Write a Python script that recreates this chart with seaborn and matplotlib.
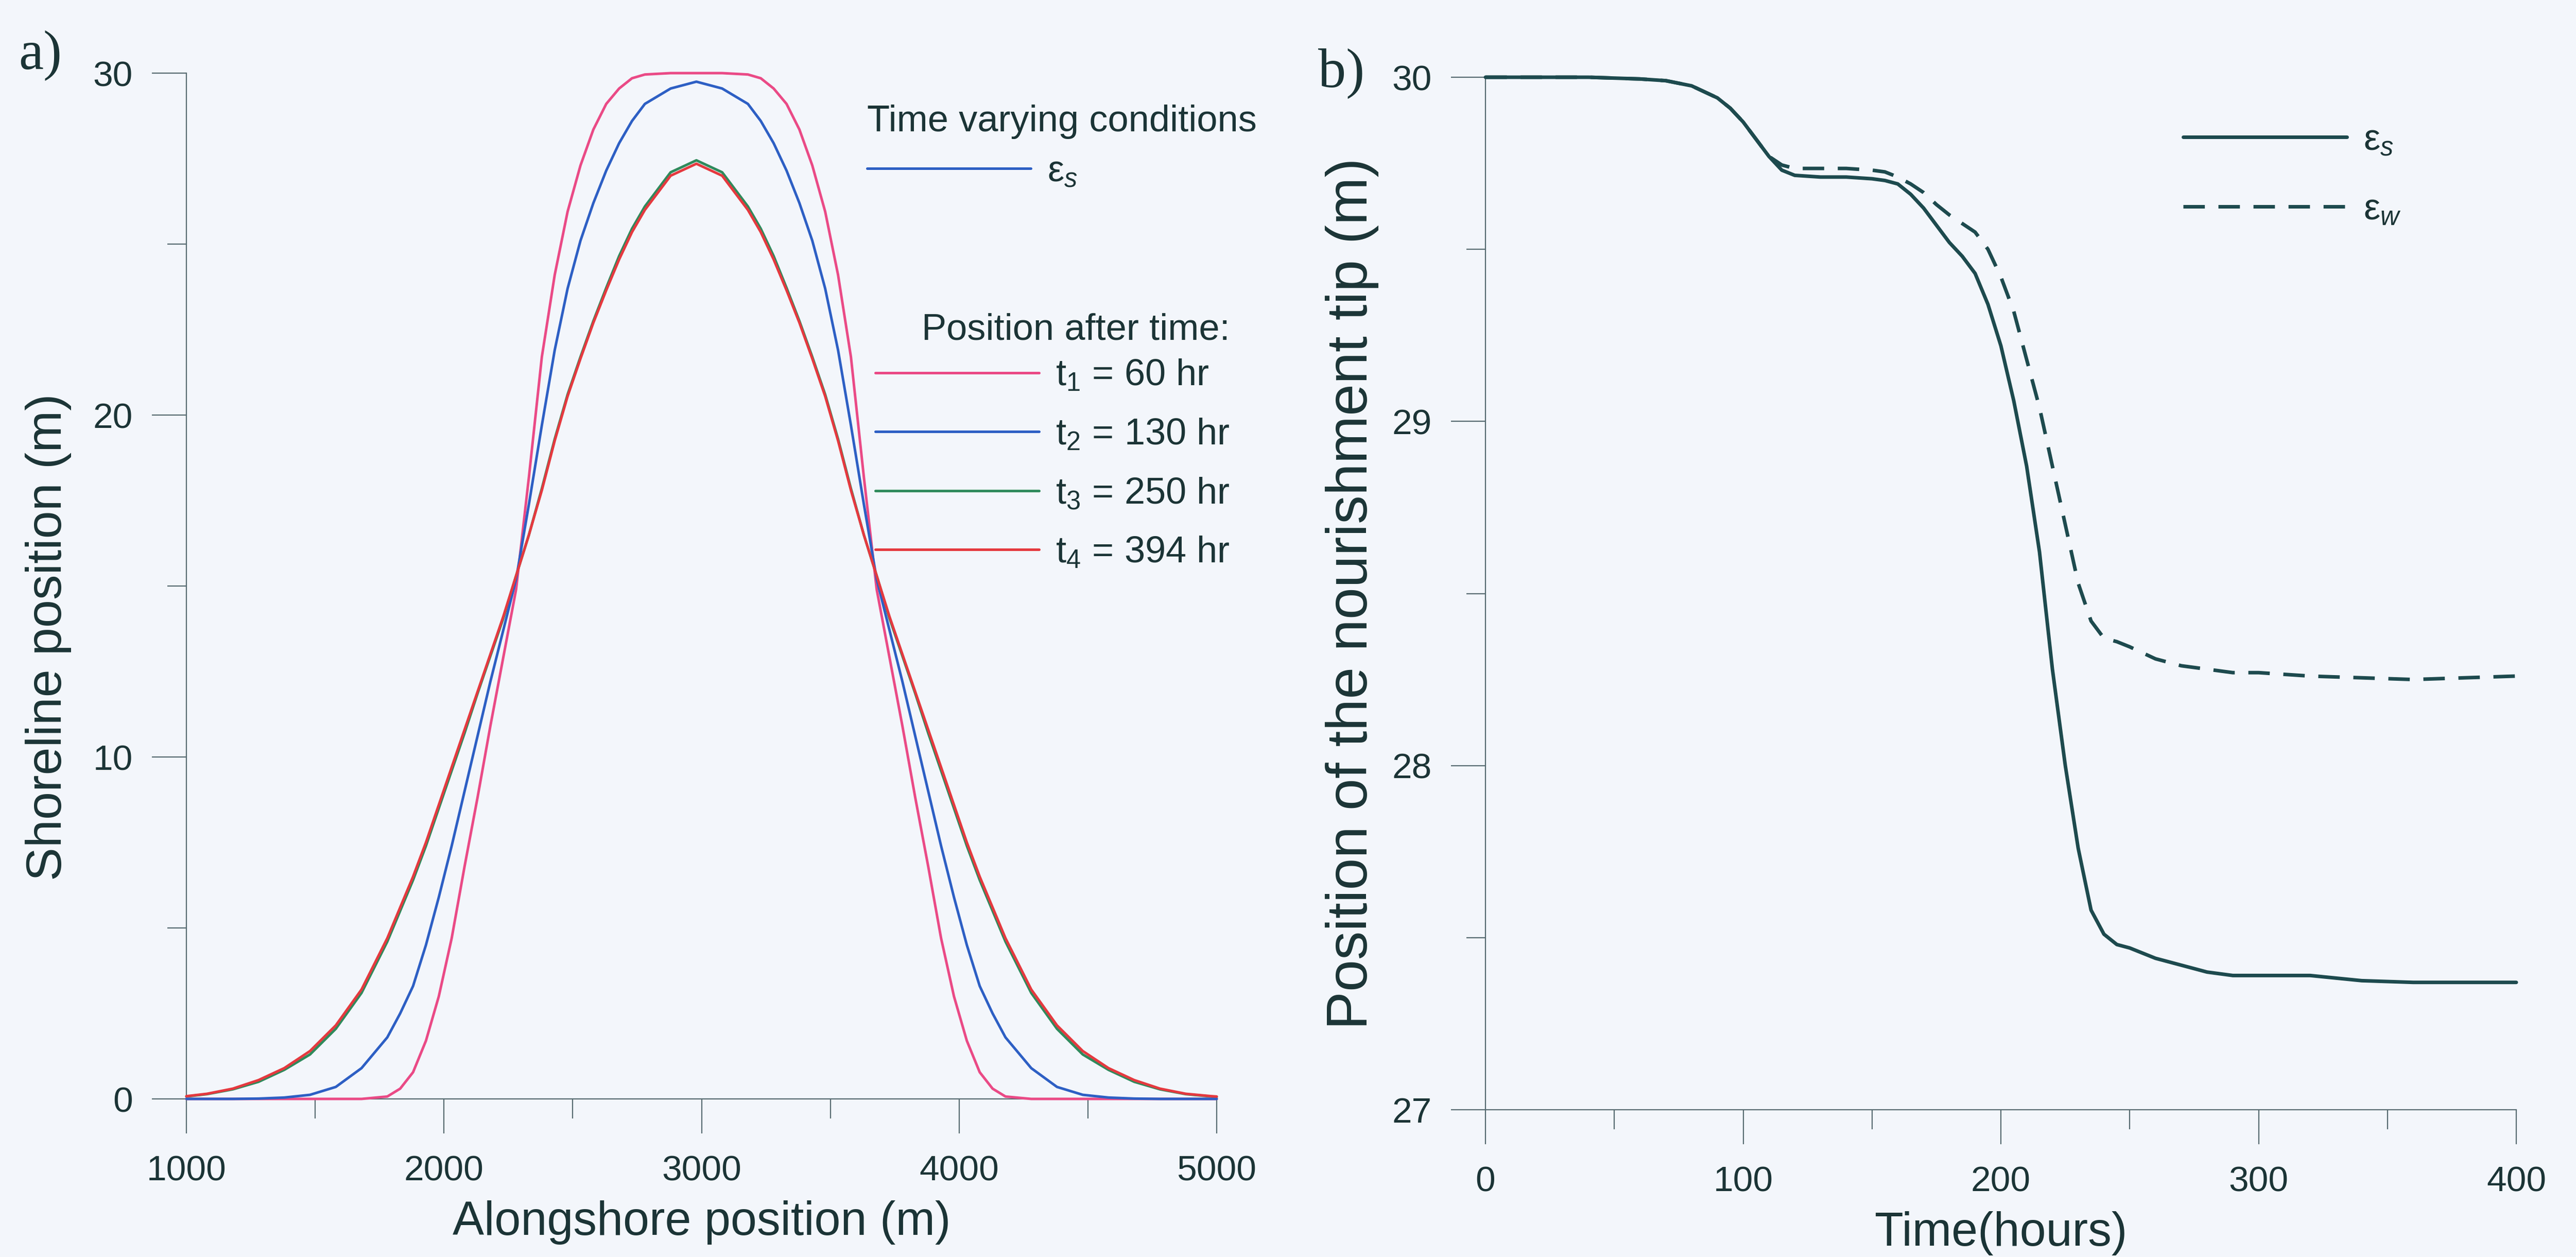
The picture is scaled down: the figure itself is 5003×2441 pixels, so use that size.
import matplotlib
matplotlib.use("Agg")
import numpy as np
import pandas as pd
import seaborn as sns
import matplotlib.pyplot as plt
from matplotlib.lines import Line2D
from matplotlib.ticker import MultipleLocator

# ---------------- data: panel a) shoreline position ----------------
x_along = [1000, 1080, 1180, 1280, 1380, 1480, 1580, 1680, 1780, 1830, 1880, 1930,
           1980, 2030, 2080, 2130, 2180, 2230, 2280, 2330, 2380, 2430, 2480, 2530,
           2580, 2630, 2680, 2730, 2780, 2880, 2980, 3080, 3180, 3230, 3280, 3330,
           3380, 3430, 3480, 3530, 3580, 3630, 3680, 3730, 3780, 3830, 3880, 3930,
           3980, 4030, 4080, 4130, 4180, 4280, 4380, 4480, 4580, 4680, 4780, 4880,
           4980, 5000]

y_t1 = [0, 0, 0, 0, 0, 0, 0, 0, 0.07, 0.3, 0.78, 1.7,
        3.0, 4.7, 6.8, 8.8, 10.9, 12.9, 14.9, 18.2, 21.7, 24.1, 25.95, 27.3,
        28.35, 29.1, 29.55, 29.85, 29.96, 30.0, 30.0, 30.0, 29.96, 29.85, 29.55, 29.1,
        28.35, 27.3, 25.95, 24.1, 21.7, 18.2, 14.9, 12.9, 10.9, 8.8, 6.8, 4.7,
        3.0, 1.7, 0.78, 0.3, 0.07, 0, 0, 0, 0, 0, 0, 0,
        0, 0]

y_t2 = [0, 0, 0, 0.01, 0.04, 0.12, 0.35, 0.9, 1.8, 2.5, 3.3, 4.5,
        5.9, 7.4, 9.0, 10.6, 12.2, 13.7, 15.2, 17.4, 19.7, 21.9, 23.7, 25.1,
        26.2, 27.15, 27.95, 28.6, 29.1, 29.55, 29.75, 29.55, 29.1, 28.6, 27.95, 27.15,
        26.2, 25.1, 23.7, 21.9, 19.7, 17.4, 15.2, 13.7, 12.2, 10.6, 9.0, 7.4,
        5.9, 4.5, 3.3, 2.5, 1.8, 0.9, 0.35, 0.12, 0.04, 0.01, 0, 0,
        0, 0]

y_t3 = [0.07, 0.14, 0.28, 0.5, 0.85, 1.3, 2.05, 3.1, 4.6, 5.5, 6.4, 7.4,
        8.5, 9.6, 10.7, 11.85, 12.95, 14.05, 15.3, 16.5, 17.85, 19.3, 20.6, 21.7,
        22.75, 23.72, 24.65, 25.45, 26.1, 27.1, 27.45, 27.1, 26.1, 25.45, 24.65, 23.72,
        22.75, 21.7, 20.6, 19.3, 17.85, 16.5, 15.3, 14.05, 12.95, 11.85, 10.7, 9.6,
        8.5, 7.4, 6.4, 5.5, 4.6, 3.1, 2.05, 1.3, 0.85, 0.5, 0.28, 0.14,
        0.07, 0.06]

y_t4 = [0.08, 0.15, 0.3, 0.55, 0.9, 1.4, 2.15, 3.2, 4.7, 5.6, 6.5, 7.5,
        8.6, 9.7, 10.8, 11.9, 13.0, 14.1, 15.3, 16.5, 17.8, 19.25, 20.55, 21.65,
        22.7, 23.65, 24.55, 25.35, 26.0, 27.0, 27.35, 27.0, 26.0, 25.35, 24.55, 23.65,
        22.7, 21.65, 20.55, 19.25, 17.8, 16.5, 15.3, 14.1, 13.0, 11.9, 10.8, 9.7,
        8.6, 7.5, 6.5, 5.6, 4.7, 3.2, 2.15, 1.4, 0.9, 0.55, 0.3, 0.15,
        0.08, 0.07]

labels_a = ["t$_1$ = 60 hr", "t$_2$ = 130 hr", "t$_3$ = 250 hr", "t$_4$ = 394 hr"]
header_a1 = "Time varying conditions"
header_a2 = "Position after time:"

# ---------------- data: panel b) nourishment tip ----------------
t_hours = [0, 20, 40, 60, 70, 80, 90, 95, 100, 105, 110, 115, 120, 130, 140, 150,
           155, 160, 165, 170, 175, 180, 185, 190, 195, 200, 205, 210, 215, 220,
           225, 230, 235, 240, 245, 250, 260, 270, 280, 290, 300, 320, 340, 360,
           380, 400]
eps_s = [30.0, 30.0, 30.0, 29.995, 29.99, 29.975, 29.94, 29.91, 29.87, 29.82,
         29.77, 29.73, 29.715, 29.71, 29.71, 29.705, 29.70, 29.69, 29.66, 29.62,
         29.57, 29.52, 29.48, 29.43, 29.34, 29.22, 29.06, 28.87, 28.62, 28.28,
         28.0, 27.76, 27.58, 27.51, 27.48, 27.47, 27.44, 27.42, 27.40, 27.39,
         27.39, 27.39, 27.375, 27.37, 27.37, 27.37]
eps_w = [30.0, 30.0, 30.0, 29.995, 29.99, 29.975, 29.94, 29.91, 29.87, 29.82,
         29.77, 29.745, 29.735, 29.735, 29.735, 29.73, 29.725, 29.71, 29.69, 29.665,
         29.63, 29.60, 29.575, 29.55, 29.50, 29.42, 29.32, 29.18, 29.04, 28.87,
         28.70, 28.53, 28.42, 28.37, 28.36, 28.345, 28.31, 28.29, 28.28, 28.27,
         28.27, 28.26, 28.255, 28.25, 28.255, 28.26]

# ---------------- style ----------------
sns.set_theme(style="ticks")
BG = "#f3f6fb"
TXT = "#1b3436"
AXC = "#566a70"
plt.rcParams["font.family"] = ["Liberation Sans", "DejaVu Sans"]
plt.rcParams["mathtext.fontset"] = "custom"
plt.rcParams["mathtext.rm"] = "Liberation Sans"
plt.rcParams["mathtext.it"] = "Liberation Sans:italic"
plt.rcParams["mathtext.bf"] = "Liberation Sans:bold"
plt.rcParams["text.color"] = TXT
plt.rcParams["axes.labelcolor"] = TXT
plt.rcParams["xtick.color"] = AXC
plt.rcParams["ytick.color"] = AXC
plt.rcParams["xtick.labelcolor"] = TXT
plt.rcParams["ytick.labelcolor"] = TXT

W, H = 5003, 2441
fig = plt.figure(figsize=(W / 100, H / 100), dpi=100, facecolor=BG)

def fx(px):
    return px / W

def fy(py):
    return 1 - py / H

ax1 = fig.add_axes([fx(362), fy(2134), fx(2363) - fx(362), fy(142) - fy(2134)])
ax2 = fig.add_axes([fx(2885), fy(2155), fx(4887) - fx(2885), fy(150) - fy(2155)])

C_PINK = "#ea4a86"
C_BLUE = "#2d5fc4"
C_GREEN = "#2f8a5c"
C_RED = "#e5393f"
C_DARK = "#1d4a4e"

LW = 3.6
LWB = 5.0
DASH = [6, 3.8]
series_a = [(y_t1, C_PINK, 4), (y_t2, C_BLUE, 4), (y_t3, C_GREEN, 3), (y_t4, C_RED, 5)]
for yv, col, z in series_a:
    sns.lineplot(x=x_along, y=yv, ax=ax1, color=col, lw=LW, zorder=z, clip_on=False)

sns.lineplot(x=t_hours, y=eps_w, ax=ax2, color=C_DARK, lw=LWB, zorder=3, clip_on=False)
ax2.lines[-1].set_dashes(DASH)
sns.lineplot(x=t_hours, y=eps_s, ax=ax2, color=C_DARK, lw=LWB, zorder=4, clip_on=False)

for ax in (ax1, ax2):
    ax.set_facecolor("none")
    sns.despine(ax=ax, top=True, right=True)
    for sp in ("left", "bottom"):
        ax.spines[sp].set_color(AXC)
        ax.spines[sp].set_linewidth(1.6)
    ax.tick_params(axis="both", which="major", direction="out", length=48, width=1.6,
                   labelsize=50)
    ax.tick_params(axis="both", which="minor", direction="out", length=27, width=1.6)
    ax.tick_params(axis="x", which="major", pad=30)
    ax.tick_params(axis="y", which="major", pad=27)

ax1.set_xlim(1000, 5000)
ax1.set_ylim(0, 30)
ax1.set_xticks([1000, 2000, 3000, 4000, 5000])
ax1.xaxis.set_minor_locator(MultipleLocator(500))
ax1.set_yticks([0, 10, 20, 30])
ax1.yaxis.set_minor_locator(MultipleLocator(5))
ax1.set_xlabel("Alongshore position (m)", fontsize=66, labelpad=18)
ax1.set_ylabel("Shoreline position (m)", fontsize=70, labelpad=30)
ax1.yaxis.label.set_y(0.45)

ax2.set_xlim(0, 400)
ax2.set_ylim(27, 30)
ax2.set_xticks([0, 100, 200, 300, 400])
ax2.xaxis.set_minor_locator(MultipleLocator(50))
ax2.set_yticks([27, 28, 29, 30])
ax2.yaxis.set_minor_locator(MultipleLocator(0.5))
ax2.set_xlabel("Time(hours)", fontsize=66, labelpad=18)
ax2.set_ylabel("Position of the nourishment tip (m)", fontsize=80, labelpad=18)

# panel letters
fig.text(fx(36), fy(108), "a)", fontsize=78, family=["Liberation Serif", "DejaVu Serif"],
         color=TXT, va="center", ha="left")
fig.text(fx(2560), fy(143), "b)", fontsize=78, family=["Liberation Serif", "DejaVu Serif"],
         color=TXT, va="center", ha="left")

# legends panel a
FS = 52
hA = [Line2D([], [], color=C_BLUE, lw=LW)]
legA = ax1.legend(hA, ["ε$_s$"], title=header_a1, loc="upper left",
                  bbox_to_anchor=(fx(1684), fy(203)), bbox_transform=fig.transFigure,
                  frameon=False, fontsize=FS, title_fontsize=FS, handlelength=4.4,
                  handletextpad=0.45, borderpad=0, borderaxespad=0, alignment="left",
                  labelspacing=0.42)
ax1.add_artist(legA)
hB = [Line2D([], [], color=c, lw=LW) for c in (C_PINK, C_BLUE, C_GREEN, C_RED)]
legB = ax1.legend(hB, labels_a, title=header_a2, loc="upper left",
                  bbox_to_anchor=(fx(1700), fy(608)), bbox_transform=fig.transFigure,
                  frameon=False, fontsize=FS, title_fontsize=FS, handlelength=4.4,
                  handletextpad=0.45, borderpad=0, borderaxespad=0, alignment="right",
                  labelspacing=0.65)
legB._legend_box.sep = 0.3 * FS

# legend panel b
hC = [Line2D([], [], color=C_DARK, lw=LWB),
      Line2D([], [], color=C_DARK, lw=LWB, dashes=DASH)]
ax2.legend(hC, ["ε$_s$", "ε$_w$"], loc="upper left",
           bbox_to_anchor=(fx(4240), fy(239)), bbox_transform=fig.transFigure,
           frameon=False, fontsize=FS, handlelength=4.4, handletextpad=0.45,
           borderpad=0, borderaxespad=0, labelspacing=0.95)

fig.savefig("out.png", dpi=100, facecolor=BG)
